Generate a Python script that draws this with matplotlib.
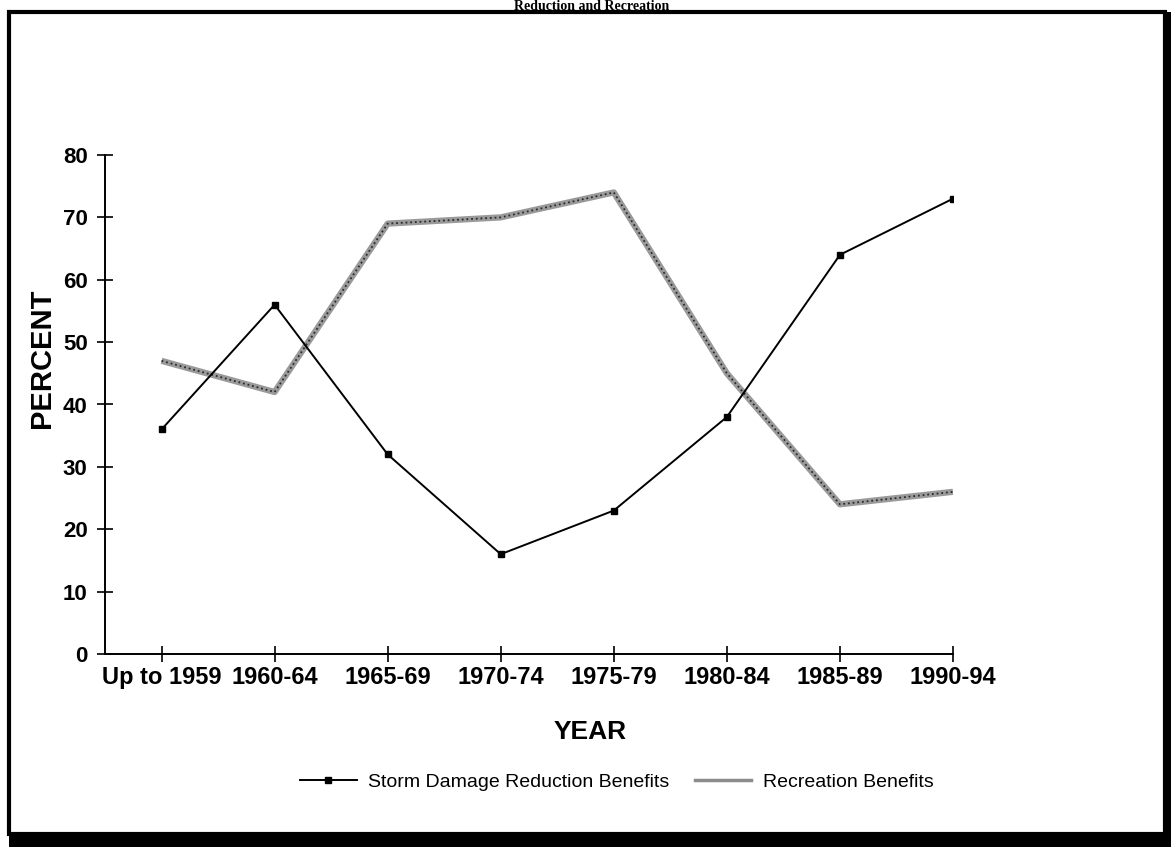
import matplotlib
matplotlib.use("Agg")
import matplotlib.pyplot as plt
from matplotlib.patches import Rectangle
from matplotlib.lines import Line2D

# data
YEARS = ["Up to 1959", "1960-64", "1965-69", "1970-74",
         "1975-79", "1980-84", "1985-89", "1990-94"]
STORM_DAMAGE = [36, 56, 32, 16, 23, 38, 64, 73]
RECREATION = [47, 42, 69, 70, 74, 45, 24, 26]
Y_TICKS = [0, 10, 20, 30, 40, 50, 60, 70, 80]

W, H = 1171, 847
plt.rcParams["font.family"] = ["Liberation Sans", "DejaVu Sans"]

fig = plt.figure(figsize=(W / 100, H / 100), dpi=100)
ax = fig.add_axes([105 / W, 1 - 654 / H, (953 - 105) / W, (654 - 155) / H])

x = list(range(len(YEARS)))
ax.plot(x, RECREATION, color="#9a9a9a", linewidth=4.5, solid_capstyle="butt", zorder=2)
ax.plot(x, RECREATION, color="#2a2a2a", linewidth=1.3, linestyle=(0, (1, 1.6)), zorder=2)
ax.plot(x, STORM_DAMAGE, color="black", linewidth=1.4, marker="s", markersize=4.5, zorder=3)

ax.set_xlim(-0.5, len(YEARS) - 1)
ax.set_ylim(0, 80)
ax.set_xticks(x)
ax.set_xticklabels(YEARS, fontsize=17, fontweight="bold")
ax.set_yticks(Y_TICKS)
ax.set_yticklabels([str(v) for v in Y_TICKS], fontsize=16, fontweight="bold")
ax.tick_params(direction="inout", length=11, width=1.2)
ax.tick_params(axis="x", pad=3)
ax.tick_params(axis="y", pad=7)

for side in ["top", "right"]:
    ax.spines[side].set_visible(False)
for side in ["left", "bottom"]:
    ax.spines[side].set_linewidth(1.4)

ax.set_ylabel("PERCENT", fontsize=21, fontweight="bold")
ax.yaxis.set_label_coords((42 - 105) / (953 - 105), (654 - 358) / (654 - 155))
ax.set_xlabel("YEAR", fontsize=19, fontweight="bold")
ax.xaxis.set_label_coords((590 - 105) / (953 - 105), -(732 - 654) / (654 - 155))
ax.xaxis.label.set_verticalalignment("center")
ax.yaxis.label.set_verticalalignment("center")

# legend at the bottom
handles = [
    Line2D([], [], color="black", linewidth=1.4, marker="s", markersize=4.5),
    Line2D([], [], color="#8c8c8c", linewidth=2.5),
]
fig.legend(handles, ["Storm Damage Reduction Benefits", "Recreation Benefits"],
           loc="center", bbox_to_anchor=(617 / W, 1 - 782 / H), ncol=2,
           frameon=False, fontsize=14, handlelength=2.9, handletextpad=0.6,
           columnspacing=1.3)

# title, mostly cut off above the frame in the original scan
fig.text(592 / W, 1 - 0.5 / H, "Reduction and Recreation", ha="center", va="top",
         fontsize=10, fontweight="bold", family="Liberation Serif")

# page frame with heavy shadow
fig.patches.append(Rectangle((9 / W, 1 - 834 / H), (1165 - 9) / W, (834 - 12) / H,
                             transform=fig.transFigure, fill=False,
                             edgecolor="black", linewidth=3))
fig.patches.append(Rectangle((9 / W, 0), 1, 12 / H, transform=fig.transFigure,
                             facecolor="black", edgecolor="none"))
fig.patches.append(Rectangle((1165 / W, 0), 6 / W, 1 - 12 / H, transform=fig.transFigure,
                             facecolor="black", edgecolor="none"))

fig.savefig("out.png", dpi=100)
